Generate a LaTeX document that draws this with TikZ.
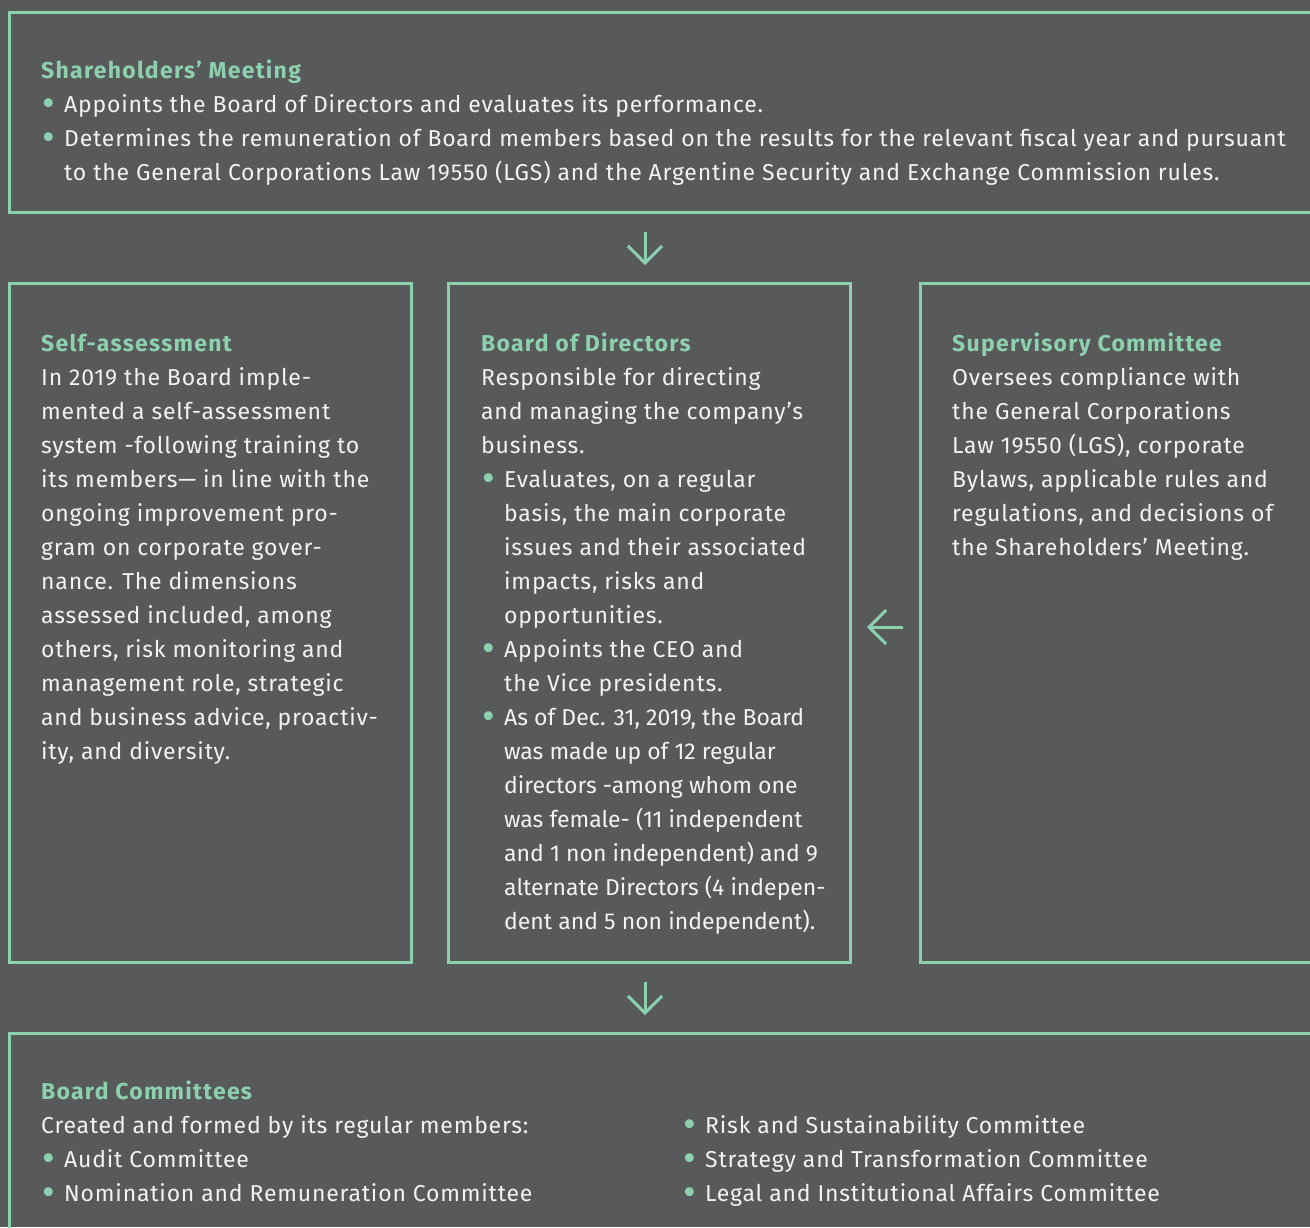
\documentclass[tikz,border=0pt]{standalone}
\usepackage{fontspec}
\setmainfont{Fira Sans}[LetterSpace=3.5, BoldFeatures={LetterSpace=5.5}]
\usetikzlibrary{arrows.meta}
\definecolor{slate}{HTML}{58595B}
\definecolor{mint}{HTML}{8DD0AE}
\definecolor{paper}{HTML}{F2F2F2}
\newcommand\bitem{\makebox[23pt][l]{\hspace{1pt}\textcolor{mint}{\smash{\raisebox{-4pt}{\scalebox{1.7}{\textbullet}}}}}}
\newcommand\bcont{\hspace*{23pt}}
\newcommand\head[1]{\strut\textcolor{mint}{\bfseries #1}}
\newcommand\tight{\addfontfeature{LetterSpace=0}}
\begin{document}
\begin{tikzpicture}[x=1pt, y=-1pt,
  panel/.style={draw=mint, line width=3pt, inner sep=0pt, outer sep=0pt, anchor=north west},
  txt/.style={text=paper, align=left, inner sep=0pt, anchor=north west, font=\fontsize{23}{34}\selectfont},
  arr/.style={draw=mint, line width=3pt, -{Straight Barb[length=17pt,width=34pt]}}]
\fill[slate] (0,0) rectangle (1310,1227);
\clip (0,0) rectangle (1310,1227);
% boxes
\node[panel, minimum width=1400pt, minimum height=200pt] (share) at (9,12) {};
\node[panel, minimum width=402pt, minimum height=679pt] (self) at (9,283) {};
\node[panel, minimum width=402pt, minimum height=679pt] (board) at (448,283) {};
\node[panel, minimum width=402pt, minimum height=679pt] (super) at (920,283) {};
\node[panel, minimum width=1400pt, minimum height=300pt] (comm) at (9,1033) {};
% texts
\node[txt] (sharetxt) at (41,54.2) {\head{Shareholders’ Meeting}\\
\bitem Appoints the Board of Directors and evaluates its performance.\\
\bitem Determines the remuneration of Board members based on the results for the relevant fiscal year and pursuant\\
\bcont to the General Corporations Law 19550 (LGS) and the Argentine Security and Exchange Commission rules.};
\node[txt] (selftxt) at (41,327.2) {\head{Self-assessment}\\
In 2019 the Board imple-\\
mented a self-assessment\\
system -following training to\\
its members— in line with the\\
ongoing improvement pro-\\
gram on corporate gover-\\
nance. The dimensions\\
assessed included, among\\
others, risk monitoring and\\
management role, strategic\\
and business advice, proactiv-\\
ity, and diversity.};
\node[txt] (boardtxt) at (481,327.2) {\head{Board of Directors}\\
Responsible for directing\\
and managing the company’s\\
business.\\
\bitem Evaluates, on a regular\\
\bcont basis, the main corporate\\
\bcont issues and their associated\\
\bcont impacts, risks and\\
\bcont opportunities.\\
\bitem Appoints the CEO and\\
\bcont the Vice presidents.\\
\bitem\tight As of Dec. 31, 2019, the Board\\
\bcont\tight was made up of 12 regular\\
\bcont\tight directors -among whom one\\
\bcont\tight was female- (11 independent\\
\bcont\tight and 1 non independent) and 9\\
\bcont\tight alternate Directors (4 indepen-\\
\bcont\tight dent and 5 non independent).};
\node[txt] (supertxt) at (952,327.2) {\head{Supervisory Committee}\\
Oversees compliance with\\
the General Corporations\\
Law 19550 (LGS), corporate\\
Bylaws, applicable rules and\\
regulations, and decisions of\\
the Shareholders’ Meeting.};
\node[txt] (commtxt) at (41,1075.2) {\head{Board Committees}\\
Created and formed by its regular members:\\
\bitem Audit Committee\\
\bitem Nomination and Remuneration Committee};
\node[txt] (commlist) at (682,1109.2) {\strut\bitem Risk and Sustainability Committee\\
\bitem Strategy and Transformation Committee\\
\bitem Legal and Institutional Affairs Committee};
% arrows
\draw[arr, shorten <=20pt, shorten >=18pt] ([xshift=-4pt]board.north |- share.south) -- ([xshift=-4pt]board.north);
\draw[arr, shorten <=20pt, shorten >=18pt] ([xshift=-4pt]board.south) -- ([xshift=-4pt]board.south |- comm.north);
\draw[arr, shorten <=17pt, shorten >=17pt] ([yshift=-4.5pt]super.west) -- ([yshift=-4.5pt]board.east);
\end{tikzpicture}
\end{document}
